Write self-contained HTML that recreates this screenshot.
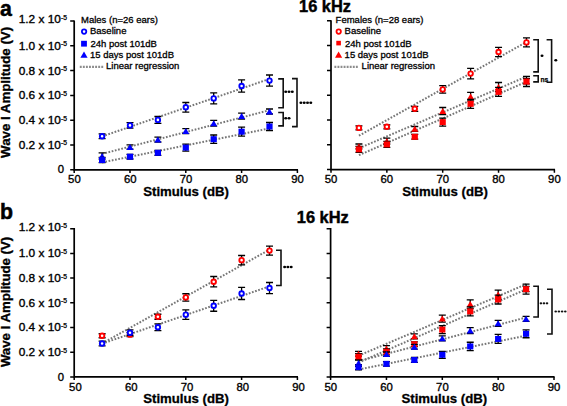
<!DOCTYPE html>
<html><head><meta charset="utf-8"><style>
html,body{margin:0;padding:0;background:#fff;}
svg{display:block;}
text{font-family:"Liberation Sans", sans-serif;fill:#000;}
.tl{font-size:11.3px;stroke:#000;stroke-width:0.35px;}
.sup{font-size:6.8px;stroke:#000;stroke-width:0.25px;}
.xt{font-size:13.2px;font-weight:bold;stroke:#000;stroke-width:0.3px;}
.yt{font-size:13.2px;font-weight:bold;stroke:#000;stroke-width:0.35px;}
.ti{font-size:16.4px;font-weight:bold;stroke:#000;stroke-width:0.45px;}
.pl{font-size:21.3px;font-weight:bold;stroke:#000;stroke-width:0.5px;}
.lg{font-size:9.5px;stroke:#000;stroke-width:0.3px;}
.ns{font-size:8px;font-weight:bold;stroke:#000;stroke-width:0.25px;}
.rl{fill:none;stroke:#767676;stroke-width:2;stroke-dasharray:1.7 1.6;}
.rll{fill:none;stroke:#8c8c8c;stroke-width:2.3;stroke-dasharray:1.9 1.17;}
</style></head><body>
<svg width="567" height="406" viewBox="0 0 567 406">
<path d="M74.2 20.4V169.8H298" fill="none" stroke="#000" stroke-width="1.7"/>
<path d="M70.2 169.8H74.2M70.2 145H74.2M70.2 120.2H74.2M70.2 95.4H74.2M70.2 70.6H74.2M70.2 45.8H74.2M70.2 21H74.2M74.2 169.8V173M130 169.8V173M185.8 169.8V173M241.6 169.8V173M297.4 169.8V173" fill="none" stroke="#000" stroke-width="1.5"/>
<text x="74.4" y="183.3" class="tl" text-anchor="middle">50</text>
<text x="130.2" y="183.3" class="tl" text-anchor="middle">60</text>
<text x="186" y="183.3" class="tl" text-anchor="middle">70</text>
<text x="241.8" y="183.3" class="tl" text-anchor="middle">80</text>
<text x="297.6" y="183.3" class="tl" text-anchor="middle">90</text>
<text x="186.1" y="195.8" class="xt" text-anchor="middle">Stimulus (dB)</text>
<text x="60.9" y="148.9" class="tl" text-anchor="end" textLength="42.2" lengthAdjust="spacingAndGlyphs">0.2 x 10</text>
<text x="61.1" y="145.4" class="sup">-5</text>
<text x="60.9" y="124.1" class="tl" text-anchor="end" textLength="42.2" lengthAdjust="spacingAndGlyphs">0.4 x 10</text>
<text x="61.1" y="120.6" class="sup">-5</text>
<text x="60.9" y="99.3" class="tl" text-anchor="end" textLength="42.2" lengthAdjust="spacingAndGlyphs">0.6 x 10</text>
<text x="61.1" y="95.8" class="sup">-5</text>
<text x="60.9" y="74.5" class="tl" text-anchor="end" textLength="42.2" lengthAdjust="spacingAndGlyphs">0.8 x 10</text>
<text x="61.1" y="71" class="sup">-5</text>
<text x="60.9" y="49.7" class="tl" text-anchor="end" textLength="42.2" lengthAdjust="spacingAndGlyphs">1.0 x 10</text>
<text x="61.1" y="46.2" class="sup">-5</text>
<text x="60.9" y="23" class="tl" text-anchor="end" textLength="42.2" lengthAdjust="spacingAndGlyphs">1.2 x 10</text>
<text x="61.1" y="19.5" class="sup">-5</text>
<text x="64" y="173.4" class="tl" text-anchor="end">0</text>
<line x1="102.1" y1="136.4" x2="269.5" y2="78.9" class="rl"/>
<line x1="102.1" y1="153.9" x2="269.5" y2="110.2" class="rl"/>
<line x1="102.1" y1="162.4" x2="269.5" y2="128.4" class="rl"/>
<path d="M102.1 152.9V159.1M98.6 152.9H105.6M98.6 159.1H105.6M130 144.8V149.2M126.5 144.8H133.5M126.5 149.2H133.5M157.9 137.2V142M154.4 137.2H161.4M154.4 142H161.4M185.8 128.7V133.7M182.3 128.7H189.3M182.3 133.7H189.3M213.7 120.4V126.2M210.2 120.4H217.2M210.2 126.2H217.2M241.6 113.1V119.1M238.1 113.1H245.1M238.1 119.1H245.1M269.5 109V114M266 109H273M266 114H273" fill="none" stroke="#000" stroke-width="1.3"/>
<path d="M102.1 152.9L105.6 158.9H98.6Z" fill="#0000ff"/>
<path d="M130 143.9L133.5 149.9H126.5Z" fill="#0000ff"/>
<path d="M157.9 136.5L161.4 142.5H154.4Z" fill="#0000ff"/>
<path d="M185.8 128.1L189.3 134.1H182.3Z" fill="#0000ff"/>
<path d="M213.7 120.2L217.2 126.2H210.2Z" fill="#0000ff"/>
<path d="M241.6 113L245.1 119H238.1Z" fill="#0000ff"/>
<path d="M269.5 108.4L273 114.4H266Z" fill="#0000ff"/>
<path d="M102.1 157.4V162.6M98.6 157.4H105.6M98.6 162.6H105.6M130 154.4V159M126.5 154.4H133.5M126.5 159H133.5M157.9 150.3V155.3M154.4 150.3H161.4M154.4 155.3H161.4M185.8 144.1V151.1M182.3 144.1H189.3M182.3 151.1H189.3M213.7 135V143.4M210.2 135H217.2M210.2 143.4H217.2M241.6 127.2V136.2M238.1 127.2H245.1M238.1 136.2H245.1M269.5 122.5V130.5M266 122.5H273M266 130.5H273" fill="none" stroke="#000" stroke-width="1.3"/>
<rect x="99" y="157" width="6.2" height="6.0" fill="#0000ff"/>
<rect x="126.9" y="153.7" width="6.2" height="6.0" fill="#0000ff"/>
<rect x="154.8" y="149.8" width="6.2" height="6.0" fill="#0000ff"/>
<rect x="182.7" y="144.6" width="6.2" height="6.0" fill="#0000ff"/>
<rect x="210.6" y="136.2" width="6.2" height="6.0" fill="#0000ff"/>
<rect x="238.5" y="128.7" width="6.2" height="6.0" fill="#0000ff"/>
<rect x="266.4" y="123.5" width="6.2" height="6.0" fill="#0000ff"/>
<path d="M102.1 133.8V138.6M98.6 133.8H105.6M98.6 138.6H105.6M130 122.6V128.2M126.5 122.6H133.5M126.5 128.2H133.5M157.9 116.5V123.3M154.4 116.5H161.4M154.4 123.3H161.4M185.8 102.5V112.1M182.3 102.5H189.3M182.3 112.1H189.3M213.7 92.9V103.9M210.2 92.9H217.2M210.2 103.9H217.2M241.6 79.9V92.1M238.1 79.9H245.1M238.1 92.1H245.1M269.5 75V86.2M266 75H273M266 86.2H273" fill="none" stroke="#000" stroke-width="1.3"/>
<circle cx="102.1" cy="136.2" r="2.25" fill="#fff" stroke="#0000ff" stroke-width="1.9"/>
<circle cx="130" cy="125.4" r="2.25" fill="#fff" stroke="#0000ff" stroke-width="1.9"/>
<circle cx="157.9" cy="119.9" r="2.25" fill="#fff" stroke="#0000ff" stroke-width="1.9"/>
<circle cx="185.8" cy="107.3" r="2.25" fill="#fff" stroke="#0000ff" stroke-width="1.9"/>
<circle cx="213.7" cy="98.4" r="2.25" fill="#fff" stroke="#0000ff" stroke-width="1.9"/>
<circle cx="241.6" cy="86" r="2.25" fill="#fff" stroke="#0000ff" stroke-width="1.9"/>
<circle cx="269.5" cy="80.6" r="2.25" fill="#fff" stroke="#0000ff" stroke-width="1.9"/>
<path d="M331 20.2V169.6H555" fill="none" stroke="#000" stroke-width="1.7"/>
<path d="M327 169.6H331M327 144.8H331M327 120H331M327 95.2H331M327 70.4H331M327 45.6H331M327 20.8H331M331 169.6V172.8M386.85 169.6V172.8M442.7 169.6V172.8M498.55 169.6V172.8M554.4 169.6V172.8" fill="none" stroke="#000" stroke-width="1.5"/>
<text x="331" y="183.1" class="tl" text-anchor="middle">50</text>
<text x="386.85" y="183.1" class="tl" text-anchor="middle">60</text>
<text x="442.7" y="183.1" class="tl" text-anchor="middle">70</text>
<text x="498.55" y="183.1" class="tl" text-anchor="middle">80</text>
<text x="554.4" y="183.1" class="tl" text-anchor="middle">90</text>
<text x="445" y="195.6" class="xt" text-anchor="middle">Stimulus (dB)</text>
<line x1="358.93" y1="135.7" x2="526.48" y2="42" class="rl"/>
<line x1="358.93" y1="148.3" x2="526.48" y2="76.6" class="rl"/>
<line x1="358.93" y1="155.2" x2="526.48" y2="81.7" class="rl"/>
<path d="M358.93 144V148.8M355.43 144H362.43M355.43 148.8H362.43M386.85 138.1V144.1M383.35 138.1H390.35M383.35 144.1H390.35M414.77 126.5V131.3M411.27 126.5H418.27M411.27 131.3H418.27M442.7 107.5V114.7M439.2 107.5H446.2M439.2 114.7H446.2M470.62 92.3V100.9M467.12 92.3H474.12M467.12 100.9H474.12M498.55 82.5V91.5M495.05 82.5H502.05M495.05 91.5H502.05M526.48 78.7V83.9M522.98 78.7H529.98M522.98 83.9H529.98" fill="none" stroke="#000" stroke-width="1.3"/>
<path d="M358.93 143.3L362.43 149.3H355.43Z" fill="#ff0000"/>
<path d="M386.85 138L390.35 144H383.35Z" fill="#ff0000"/>
<path d="M414.77 125.8L418.27 131.8H411.27Z" fill="#ff0000"/>
<path d="M442.7 108L446.2 114H439.2Z" fill="#ff0000"/>
<path d="M470.62 93.5L474.12 99.5H467.12Z" fill="#ff0000"/>
<path d="M498.55 83.9L502.05 89.9H495.05Z" fill="#ff0000"/>
<path d="M526.48 78.2L529.98 84.2H522.98Z" fill="#ff0000"/>
<path d="M358.93 146.3V152.3M355.43 146.3H362.43M355.43 152.3H362.43M386.85 141.4V147.4M383.35 141.4H390.35M383.35 147.4H390.35M414.77 134.4V139.2M411.27 134.4H418.27M411.27 139.2H418.27M442.7 118.1V126.1M439.2 118.1H446.2M439.2 126.1H446.2M470.62 99.3V108.3M467.12 99.3H474.12M467.12 108.3H474.12M498.55 87.4V96.4M495.05 87.4H502.05M495.05 96.4H502.05M526.48 76.5V86.5M522.98 76.5H529.98M522.98 86.5H529.98" fill="none" stroke="#000" stroke-width="1.3"/>
<rect x="355.82" y="146.3" width="6.2" height="6.0" fill="#ff0000"/>
<rect x="383.75" y="141.4" width="6.2" height="6.0" fill="#ff0000"/>
<rect x="411.67" y="133.8" width="6.2" height="6.0" fill="#ff0000"/>
<rect x="439.6" y="119.1" width="6.2" height="6.0" fill="#ff0000"/>
<rect x="467.52" y="100.8" width="6.2" height="6.0" fill="#ff0000"/>
<rect x="495.45" y="88.9" width="6.2" height="6.0" fill="#ff0000"/>
<rect x="523.38" y="78.5" width="6.2" height="6.0" fill="#ff0000"/>
<path d="M358.93 125.9V129.9M355.43 125.9H362.43M355.43 129.9H362.43M386.85 124.8V128.8M383.35 124.8H390.35M383.35 128.8H390.35M414.77 106.3V111.3M411.27 106.3H418.27M411.27 111.3H418.27M442.7 85.7V93.1M439.2 85.7H446.2M439.2 93.1H446.2M470.62 68.4V78.8M467.12 68.4H474.12M467.12 78.8H474.12M498.55 47.3V56.7M495.05 47.3H502.05M495.05 56.7H502.05M526.48 37.9V46.9M522.98 37.9H529.98M522.98 46.9H529.98" fill="none" stroke="#000" stroke-width="1.3"/>
<circle cx="358.93" cy="127.9" r="2.25" fill="#fff" stroke="#ff0000" stroke-width="1.9"/>
<circle cx="386.85" cy="126.8" r="2.25" fill="#fff" stroke="#ff0000" stroke-width="1.9"/>
<circle cx="414.77" cy="108.8" r="2.25" fill="#fff" stroke="#ff0000" stroke-width="1.9"/>
<circle cx="442.7" cy="89.4" r="2.25" fill="#fff" stroke="#ff0000" stroke-width="1.9"/>
<circle cx="470.62" cy="73.6" r="2.25" fill="#fff" stroke="#ff0000" stroke-width="1.9"/>
<circle cx="498.55" cy="52" r="2.25" fill="#fff" stroke="#ff0000" stroke-width="1.9"/>
<circle cx="526.48" cy="42.4" r="2.25" fill="#fff" stroke="#ff0000" stroke-width="1.9"/>
<path d="M74.2 228.1V376.9H298" fill="none" stroke="#000" stroke-width="1.7"/>
<path d="M70.2 376.9H74.2M70.2 352.2H74.2M70.2 327.5H74.2M70.2 302.8H74.2M70.2 278.1H74.2M70.2 253.4H74.2M70.2 228.7H74.2M74.2 376.9V380.1M130 376.9V380.1M185.8 376.9V380.1M241.6 376.9V380.1M297.4 376.9V380.1" fill="none" stroke="#000" stroke-width="1.5"/>
<text x="75.4" y="390.7" class="tl" text-anchor="middle">50</text>
<text x="131.2" y="390.7" class="tl" text-anchor="middle">60</text>
<text x="187" y="390.7" class="tl" text-anchor="middle">70</text>
<text x="242.8" y="390.7" class="tl" text-anchor="middle">80</text>
<text x="298.6" y="390.7" class="tl" text-anchor="middle">90</text>
<text x="186.1" y="402.9" class="xt" text-anchor="middle">Stimulus (dB)</text>
<text x="60.9" y="356.1" class="tl" text-anchor="end" textLength="42.2" lengthAdjust="spacingAndGlyphs">0.2 x 10</text>
<text x="61.1" y="352.6" class="sup">-5</text>
<text x="60.9" y="331.4" class="tl" text-anchor="end" textLength="42.2" lengthAdjust="spacingAndGlyphs">0.4 x 10</text>
<text x="61.1" y="327.9" class="sup">-5</text>
<text x="60.9" y="306.7" class="tl" text-anchor="end" textLength="42.2" lengthAdjust="spacingAndGlyphs">0.6 x 10</text>
<text x="61.1" y="303.2" class="sup">-5</text>
<text x="60.9" y="282" class="tl" text-anchor="end" textLength="42.2" lengthAdjust="spacingAndGlyphs">0.8 x 10</text>
<text x="61.1" y="278.5" class="sup">-5</text>
<text x="60.9" y="257.3" class="tl" text-anchor="end" textLength="42.2" lengthAdjust="spacingAndGlyphs">1.0 x 10</text>
<text x="61.1" y="253.8" class="sup">-5</text>
<text x="60.9" y="231.4" class="tl" text-anchor="end" textLength="42.2" lengthAdjust="spacingAndGlyphs">1.2 x 10</text>
<text x="61.1" y="227.9" class="sup">-5</text>
<text x="64" y="380.5" class="tl" text-anchor="end">0</text>
<line x1="102.1" y1="343.5" x2="269.5" y2="249.6" class="rl"/>
<line x1="102.1" y1="343.63" x2="269.5" y2="286.37" class="rl"/>
<path d="M102.1 333.77V337.76M98.6 333.77H105.6M98.6 337.76H105.6M130 332.68V336.66M126.5 332.68H133.5M126.5 336.66H133.5M157.9 314.25V319.23M154.4 314.25H161.4M154.4 319.23H161.4M185.8 293.74V301.11M182.3 293.74H189.3M182.3 301.11H189.3M213.7 276.51V286.86M210.2 276.51H217.2M210.2 286.86H217.2M241.6 255.49V264.85M238.1 255.49H245.1M238.1 264.85H245.1M269.5 246.13V255.09M266 246.13H273M266 255.09H273" fill="none" stroke="#000" stroke-width="1.3"/>
<circle cx="102.1" cy="335.77" r="2.25" fill="#fff" stroke="#ff0000" stroke-width="1.9"/>
<circle cx="130" cy="334.67" r="2.25" fill="#fff" stroke="#ff0000" stroke-width="1.9"/>
<circle cx="157.9" cy="316.74" r="2.25" fill="#fff" stroke="#ff0000" stroke-width="1.9"/>
<circle cx="185.8" cy="297.42" r="2.25" fill="#fff" stroke="#ff0000" stroke-width="1.9"/>
<circle cx="213.7" cy="281.69" r="2.25" fill="#fff" stroke="#ff0000" stroke-width="1.9"/>
<circle cx="241.6" cy="260.17" r="2.25" fill="#fff" stroke="#ff0000" stroke-width="1.9"/>
<circle cx="269.5" cy="250.61" r="2.25" fill="#fff" stroke="#ff0000" stroke-width="1.9"/>
<path d="M102.1 341.05V345.83M98.6 341.05H105.6M98.6 345.83H105.6M130 329.89V335.47M126.5 329.89H133.5M126.5 335.47H133.5M157.9 323.81V330.59M154.4 323.81H161.4M154.4 330.59H161.4M185.8 309.87V319.43M182.3 309.87H189.3M182.3 319.43H189.3M213.7 300.31V311.27M210.2 300.31H217.2M210.2 311.27H217.2M241.6 287.36V299.51M238.1 287.36H245.1M238.1 299.51H245.1M269.5 282.48V293.64M266 282.48H273M266 293.64H273" fill="none" stroke="#000" stroke-width="1.3"/>
<circle cx="102.1" cy="343.44" r="2.25" fill="#fff" stroke="#0000ff" stroke-width="1.9"/>
<circle cx="130" cy="332.68" r="2.25" fill="#fff" stroke="#0000ff" stroke-width="1.9"/>
<circle cx="157.9" cy="327.2" r="2.25" fill="#fff" stroke="#0000ff" stroke-width="1.9"/>
<circle cx="185.8" cy="314.65" r="2.25" fill="#fff" stroke="#0000ff" stroke-width="1.9"/>
<circle cx="213.7" cy="305.79" r="2.25" fill="#fff" stroke="#0000ff" stroke-width="1.9"/>
<circle cx="241.6" cy="293.44" r="2.25" fill="#fff" stroke="#0000ff" stroke-width="1.9"/>
<circle cx="269.5" cy="288.06" r="2.25" fill="#fff" stroke="#0000ff" stroke-width="1.9"/>
<path d="M330.6 228.1V376.9H554.6" fill="none" stroke="#000" stroke-width="1.7"/>
<path d="M326.6 376.9H330.6M326.6 352.2H330.6M326.6 327.5H330.6M326.6 302.8H330.6M326.6 278.1H330.6M326.6 253.4H330.6M326.6 228.7H330.6M330.6 376.9V380.1M386.45 376.9V380.1M442.3 376.9V380.1M498.15 376.9V380.1M554 376.9V380.1" fill="none" stroke="#000" stroke-width="1.5"/>
<text x="330.7" y="390.7" class="tl" text-anchor="middle">50</text>
<text x="386.55" y="390.7" class="tl" text-anchor="middle">60</text>
<text x="442.4" y="390.7" class="tl" text-anchor="middle">70</text>
<text x="498.25" y="390.7" class="tl" text-anchor="middle">80</text>
<text x="554.1" y="390.7" class="tl" text-anchor="middle">90</text>
<text x="444.3" y="402.9" class="xt" text-anchor="middle">Stimulus (dB)</text>
<line x1="358.53" y1="355.69" x2="526.08" y2="284.27" class="rl"/>
<line x1="358.53" y1="362.56" x2="526.08" y2="289.35" class="rl"/>
<line x1="358.53" y1="361.06" x2="526.08" y2="317.54" class="rl"/>
<line x1="358.53" y1="369.53" x2="526.08" y2="335.67" class="rl"/>
<path d="M358.53 351.4V356.18M355.03 351.4H362.03M355.03 356.18H362.03M386.45 345.53V351.5M382.95 345.53H389.95M382.95 351.5H389.95M414.38 333.97V338.75M410.88 333.97H417.88M410.88 338.75H417.88M442.3 315.05V322.22M438.8 315.05H445.8M438.8 322.22H445.8M470.23 299.91V308.48M466.73 299.91H473.73M466.73 308.48H473.73M498.15 290.15V299.11M494.65 290.15H501.65M494.65 299.11H501.65M526.08 286.37V291.55M522.58 286.37H529.58M522.58 291.55H529.58" fill="none" stroke="#000" stroke-width="1.3"/>
<path d="M358.53 350.69L362.03 356.69H355.03Z" fill="#ff0000"/>
<path d="M386.45 345.41L389.95 351.41H382.95Z" fill="#ff0000"/>
<path d="M414.38 333.26L417.88 339.26H410.88Z" fill="#ff0000"/>
<path d="M442.3 315.54L445.8 321.54H438.8Z" fill="#ff0000"/>
<path d="M470.23 301.09L473.73 307.09H466.73Z" fill="#ff0000"/>
<path d="M498.15 291.53L501.65 297.53H494.65Z" fill="#ff0000"/>
<path d="M526.08 285.86L529.58 291.86H522.58Z" fill="#ff0000"/>
<path d="M358.53 353.69V359.67M355.03 353.69H362.03M355.03 359.67H362.03M386.45 348.81V354.79M382.95 348.81H389.95M382.95 354.79H389.95M414.38 341.84V346.62M410.88 341.84H417.88M410.88 346.62H417.88M442.3 325.61V333.58M438.8 325.61H445.8M438.8 333.58H445.8M470.23 306.88V315.85M466.73 306.88H473.73M466.73 315.85H473.73M498.15 295.03V304M494.65 295.03H501.65M494.65 304H501.65M526.08 284.18V294.14M522.58 284.18H529.58M522.58 294.14H529.58" fill="none" stroke="#000" stroke-width="1.3"/>
<rect x="355.43" y="353.68" width="6.2" height="6.0" fill="#ff0000"/>
<rect x="383.35" y="348.8" width="6.2" height="6.0" fill="#ff0000"/>
<rect x="411.27" y="341.23" width="6.2" height="6.0" fill="#ff0000"/>
<rect x="439.2" y="326.59" width="6.2" height="6.0" fill="#ff0000"/>
<rect x="467.12" y="308.37" width="6.2" height="6.0" fill="#ff0000"/>
<rect x="495.05" y="296.51" width="6.2" height="6.0" fill="#ff0000"/>
<rect x="522.98" y="286.16" width="6.2" height="6.0" fill="#ff0000"/>
<path d="M358.53 360.07V366.24M355.03 360.07H362.03M355.03 366.24H362.03M386.45 352V356.38M382.95 352H389.95M382.95 356.38H389.95M414.38 344.43V349.21M410.88 344.43H417.88M410.88 349.21H417.88M442.3 335.97V340.95M438.8 335.97H445.8M438.8 340.95H445.8M470.23 327.7V333.48M466.73 327.7H473.73M466.73 333.48H473.73M498.15 320.43V326.4M494.65 320.43H501.65M494.65 326.4H501.65M526.08 316.35V321.32M522.58 316.35H529.58M522.58 321.32H529.58" fill="none" stroke="#000" stroke-width="1.3"/>
<path d="M358.53 360.06L362.03 366.06H355.03Z" fill="#0000ff"/>
<path d="M386.45 351.09L389.95 357.09H382.95Z" fill="#0000ff"/>
<path d="M414.38 343.72L417.88 349.72H410.88Z" fill="#0000ff"/>
<path d="M442.3 335.36L445.8 341.36H438.8Z" fill="#0000ff"/>
<path d="M470.23 327.49L473.73 333.49H466.73Z" fill="#0000ff"/>
<path d="M498.15 320.32L501.65 326.32H494.65Z" fill="#0000ff"/>
<path d="M526.08 315.74L529.58 321.74H522.58Z" fill="#0000ff"/>
<path d="M358.53 364.55V369.73M355.03 364.55H362.03M355.03 369.73H362.03M386.45 361.56V366.14M382.95 361.56H389.95M382.95 366.14H389.95M414.38 357.48V362.46M410.88 357.48H417.88M410.88 362.46H417.88M442.3 351.3V358.28M438.8 351.3H445.8M438.8 358.28H445.8M470.23 342.24V350.61M466.73 342.24H473.73M466.73 350.61H473.73M498.15 334.47V343.44M494.65 334.47H501.65M494.65 343.44H501.65M526.08 329.79V337.76M522.58 329.79H529.58M522.58 337.76H529.58" fill="none" stroke="#000" stroke-width="1.3"/>
<rect x="355.43" y="364.14" width="6.2" height="6.0" fill="#0000ff"/>
<rect x="383.35" y="360.85" width="6.2" height="6.0" fill="#0000ff"/>
<rect x="411.27" y="356.97" width="6.2" height="6.0" fill="#0000ff"/>
<rect x="439.2" y="351.79" width="6.2" height="6.0" fill="#0000ff"/>
<rect x="467.12" y="343.42" width="6.2" height="6.0" fill="#0000ff"/>
<rect x="495.05" y="335.95" width="6.2" height="6.0" fill="#0000ff"/>
<rect x="522.98" y="330.77" width="6.2" height="6.0" fill="#0000ff"/>
<path d="M278.2 78.9H283.2V107.7H278.2" fill="none" stroke="#111" stroke-width="1.6"/>
<ellipse cx="285.7" cy="91.7" rx="1.5" ry="1.25" fill="#000"/>
<ellipse cx="289" cy="91.7" rx="1.5" ry="1.25" fill="#000"/>
<ellipse cx="292.3" cy="91.7" rx="1.5" ry="1.25" fill="#000"/>
<path d="M278.2 112.5H283.2V125.9H278.2" fill="none" stroke="#111" stroke-width="1.6"/>
<ellipse cx="285.7" cy="118.3" rx="1.5" ry="1.25" fill="#000"/>
<ellipse cx="289" cy="118.3" rx="1.5" ry="1.25" fill="#000"/>
<path d="M292 78.6H297V126.6H292" fill="none" stroke="#111" stroke-width="1.6"/>
<ellipse cx="300.9" cy="102.7" rx="1.5" ry="1.25" fill="#000"/>
<ellipse cx="304.2" cy="102.7" rx="1.5" ry="1.25" fill="#000"/>
<ellipse cx="307.5" cy="102.7" rx="1.5" ry="1.25" fill="#000"/>
<ellipse cx="310.8" cy="102.7" rx="1.5" ry="1.25" fill="#000"/>
<path d="M533.2 39.7H538.2V71.9H533.2" fill="none" stroke="#111" stroke-width="1.6"/>
<ellipse cx="542" cy="55.8" rx="1.5" ry="1.25" fill="#000"/>
<path d="M533.2 75.8H538.2V81.9H533.2" fill="none" stroke="#111" stroke-width="1.6"/>
<text x="540.5" y="81.9" class="ns" textLength="7.8" lengthAdjust="spacingAndGlyphs">ns</text>
<path d="M546.6 39.7H551.6V82.2H546.6" fill="none" stroke="#111" stroke-width="1.6"/>
<ellipse cx="555.8" cy="60.3" rx="1.5" ry="1.25" fill="#000"/>
<path d="M276 250.3H281V285.5H276" fill="none" stroke="#111" stroke-width="1.6"/>
<ellipse cx="284.6" cy="267.1" rx="1.5" ry="1.25" fill="#000"/>
<ellipse cx="287.9" cy="267.1" rx="1.5" ry="1.25" fill="#000"/>
<ellipse cx="291.2" cy="267.1" rx="1.5" ry="1.25" fill="#000"/>
<path d="M533.2 286.2H538.2V317H533.2" fill="none" stroke="#111" stroke-width="1.6"/>
<ellipse cx="540.9" cy="303.3" rx="1.3" ry="1.1" fill="#111"/>
<ellipse cx="543.95" cy="303.3" rx="1.3" ry="1.1" fill="#111"/>
<ellipse cx="547" cy="303.3" rx="1.3" ry="1.1" fill="#111"/>
<path d="M547 289.2H552V334H547" fill="none" stroke="#111" stroke-width="1.6"/>
<ellipse cx="555.7" cy="311.5" rx="1.3" ry="1.1" fill="#111"/>
<ellipse cx="558.9" cy="311.5" rx="1.3" ry="1.1" fill="#111"/>
<ellipse cx="562.1" cy="311.5" rx="1.3" ry="1.1" fill="#111"/>
<ellipse cx="565.3" cy="311.5" rx="1.3" ry="1.1" fill="#111"/>
<text x="81" y="23.3" class="lg">Males (n=26 ears)</text>
<circle cx="84.1" cy="31.6" r="2.2" fill="#fff" stroke="#0000ff" stroke-width="1.8"/>
<text x="90" y="34.4" class="lg">Baseline</text>
<rect x="81.1" y="40.8" width="5.8" height="5.8" fill="#0000ff"/>
<text x="90.4" y="46.5" class="lg">24h post 101dB</text>
<path d="M84 51.5L87.6 57.7H80.4Z" fill="#0000ff"/>
<text x="90" y="57.7" class="lg">15 days post 101dB</text>
<line x1="79.8" y1="66.9" x2="103.2" y2="66.9" class="rll"/>
<text x="106" y="69.3" class="lg">Linear regression</text>
<text x="335.6" y="23.3" class="lg">Females (n=28 ears)</text>
<circle cx="338.7" cy="31.6" r="2.2" fill="#fff" stroke="#ff0000" stroke-width="1.8"/>
<text x="344.6" y="34.4" class="lg">Baseline</text>
<rect x="336.3" y="40.8" width="4.6" height="4.6" fill="#ff0000"/>
<text x="345" y="46.5" class="lg">24h post 101dB</text>
<path d="M338.6 51.5L342.2 57.7H335Z" fill="#ff0000"/>
<text x="344.6" y="57.7" class="lg">15 days post 101dB</text>
<line x1="334.4" y1="66.9" x2="357.8" y2="66.9" class="rll"/>
<text x="361.6" y="69.3" class="lg">Linear regression</text>
<text x="325" y="12.3" class="ti" text-anchor="middle">16 kHz</text>
<text x="322.8" y="222.9" class="ti" text-anchor="middle">16 kHz</text>
<text x="0" y="16.2" class="pl">a</text>
<text x="0" y="219" class="pl">b</text>
<text transform="translate(10.2 157.9) rotate(-90)" class="yt" textLength="131" lengthAdjust="spacingAndGlyphs">Wave I Amplitude (V)</text>
<text transform="translate(10.2 367.1) rotate(-90)" class="yt" textLength="130.3" lengthAdjust="spacingAndGlyphs">Wave I Amplitude (V)</text>
</svg>
</body></html>
